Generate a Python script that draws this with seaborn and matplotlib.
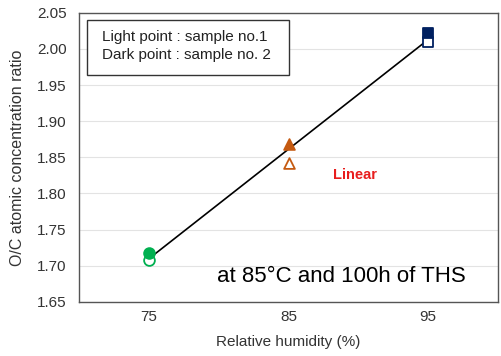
import numpy as np
import pandas as pd
import matplotlib
matplotlib.use('Agg')
import matplotlib.pyplot as plt
import seaborn as sns

# 데이터
humidity = [75, 85, 95]
sample1 = [1.708, 1.842, 2.010]   # light (open) points
sample2 = [1.718, 1.869, 2.022]   # dark (filled) points
colors = ['#00B050', '#C55A11', '#002060']
markers = ['o', '^', 's']

sns.set_style('white')
plt.rcParams['font.family'] = ['Liberation Sans', 'DejaVu Sans']

fig, ax = plt.subplots(figsize=(5.02, 3.56), dpi=100)
fig.subplots_adjust(left=0.158, right=0.992, top=0.964, bottom=0.152)

# 선형 추세선 (두 샘플 모두 사용)
x_all = np.array(humidity * 2)
y_all = np.array(sample1 + sample2)
k, b = np.polyfit(x_all, y_all, 1)
xs = np.array([humidity[0], humidity[-1]])
sns.lineplot(x=xs, y=k * xs + b, color='black', lw=1.2, ax=ax, zorder=2)

for h, s1, s2, c, m in zip(humidity, sample1, sample2, colors, markers):
    sns.scatterplot(x=[h], y=[s1], marker=m, s=60, facecolor='white',
                    edgecolor=c, linewidth=1.3, ax=ax, zorder=3)
    sns.scatterplot(x=[h], y=[s2], marker=m, s=60, color=c,
                    edgecolor=c, linewidth=1.3, ax=ax, zorder=4)

ax.set_xlim(70, 100)
ax.set_ylim(1.65, 2.05)
ax.set_xticks([75, 80, 85, 90, 95])
ax.set_xticklabels(['75', '', '85', '', '95'])
ax.set_yticks(np.arange(1.65, 2.051, 0.05))
ax.yaxis.set_major_formatter(matplotlib.ticker.FormatStrFormatter('%.2f'))
ax.tick_params(labelsize=11, colors='#333333')
ax.tick_params(axis='x', direction='in', length=3, color='#555555', pad=6)
ax.tick_params(axis='y', length=0, pad=9)
ax.yaxis.grid(True, color='#e3e3e3', lw=0.8)
ax.set_axisbelow(True)
for sp in ax.spines.values():
    sp.set_color('#555555')
    sp.set_linewidth(1.0)

ax.set_xlabel('Relative humidity (%)', fontsize=11, color='#333333', labelpad=8)
ax.set_ylabel('O/C atomic concentration ratio', fontsize=11.5, color='#333333', labelpad=9)

ax.text(88.2, 1.825, 'Linear', color='#E81E1E', fontsize=10.5,
        fontweight='bold', va='center')
ax.text(79.9, 1.677, 'at 85\u00b0C and 100h of THS', fontsize=16,
        color='black', va='baseline')

# 범례 상자
ax.add_patch(plt.Rectangle((0.019, 0.786), 0.482, 0.19, transform=ax.transAxes,
                           fc='white', ec='#333333', lw=1.0, zorder=5))
ax.text(0.054, 0.886, 'Light point : sample no.1\nDark point : sample no. 2',
        transform=ax.transAxes, fontsize=11, color='#222222',
        linespacing=1.35, va='center', zorder=6)

sns.despine(ax=ax, top=False, right=False)
fig.savefig('out.png', dpi=100)
